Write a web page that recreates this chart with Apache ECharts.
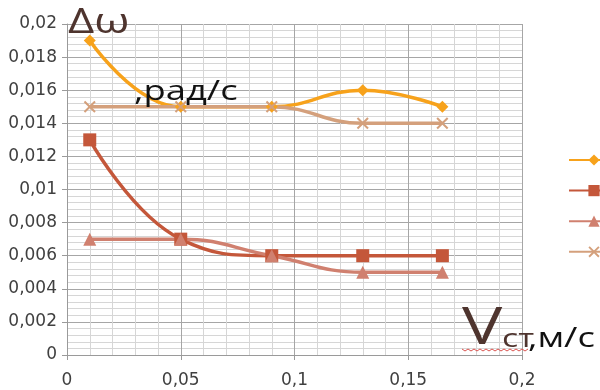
<!DOCTYPE html>
<html>
<head>
<meta charset="utf-8">
<script src="https://cdn.jsdelivr.net/npm/echarts@6/dist/echarts.min.js"></script>
<style>
  html, body { margin: 0; padding: 0; background: #fff; }
  #chart { width: 600px; height: 390px; }
</style>
</head>
<body>
<div id="chart"></div>
<script>
// Measured speeds, m/s
const speeds = [0.01, 0.05, 0.09, 0.13, 0.165];
// Angular-velocity deviation for each run, rad/s
const seriesDiamond = [0.019, 0.015, 0.015, 0.016, 0.015];
const seriesSquare = [0.013, 0.007, 0.006, 0.006, 0.006];
const seriesTriangle = [0.007, 0.007, 0.006, 0.005, 0.005];
const seriesCross = [0.015, 0.015, 0.015, 0.014, 0.014];
const seriesNames = ['1', '2', '3', '4'];

const xTicks = [0, 0.05, 0.1, 0.15, 0.2];
const yTicks = [0, 0.002, 0.004, 0.006, 0.008, 0.01, 0.012, 0.014, 0.016, 0.018, 0.02];

const comma = v => String(+v.toFixed(4)).replace('.', ',');
const pairs = ys => speeds.map((x, i) => [x, ys[i]]);

const crossPath = 'path://M0,1.2L1.2,0L5,3.8L8.8,0L10,1.2L6.2,5L10,8.8L8.8,10L5,6.2L1.2,10L0,8.8L3.8,5Z';

function lineSeries(name, data, color, symbol, size) {
  return {
    name, type: 'line', data: pairs(data), smooth: 0.45,
    symbol, symbolSize: size,
    lineStyle: { color, width: 3.5 },
    itemStyle: { color },
    emphasis: { disabled: true }
  };
}

// Axis titles drawn as free text, widened a little
function label(text, x, y, size, fill) {
  return {
    type: 'text', x, y, z: 10, scaleX: 1.3, originX: 0, originY: 0,
    style: { text, font: size + 'px "Open Sans"', fill }
  };
}

// Red wavy underline under the speed label
const wave = [];
for (let x = 462; x <= 530; x += 3) wave.push([x, 350 + ((x / 3) % 2 ? 1 : -1)]);

const tickFont = { color: '#404040', fontSize: 17, fontFamily: 'DejaVu Sans' };

const chart = echarts.init(document.getElementById('chart'));
chart.setOption({
  animation: false,
  grid: { left: 67, right: 78, top: 24, bottom: 35 },
  xAxis: {
    type: 'value', min: 0, max: 0.2, interval: 0.05,
    axisLine: { show: true, lineStyle: { color: '#9a9a9a' } },
    axisTick: { show: true, length: 5, lineStyle: { color: '#9a9a9a' } },
    axisLabel: Object.assign({}, tickFont, {
      margin: 17,
      formatter: v => xTicks.some(t => Math.abs(t - v) < 1e-9) ? comma(v) : ''
    }),
    splitLine: { show: true, lineStyle: { color: '#a6a6a6', width: 1 } },
    minorTick: { show: false, splitNumber: 5 },
    minorSplitLine: { show: true, lineStyle: { color: '#d6d6d6', width: 1 } }
  },
  yAxis: {
    type: 'value', min: 0, max: 0.02, interval: 0.002,
    axisLine: { show: true, lineStyle: { color: '#9a9a9a' } },
    axisTick: { show: true, length: 5, lineStyle: { color: '#9a9a9a' } },
    axisLabel: Object.assign({}, tickFont, {
      margin: 10,
      formatter: v => yTicks.some(t => Math.abs(t - v) < 1e-9) ? comma(v) : ''
    }),
    splitLine: { show: true, lineStyle: { color: '#a6a6a6', width: 1 } },
    minorTick: { show: false, splitNumber: 5 },
    minorSplitLine: { show: true, lineStyle: { color: '#d6d6d6', width: 1 } }
  },
  legend: {
    orient: 'vertical', left: 563, top: 148,
    itemWidth: 50, itemHeight: 14, itemGap: 18,
    formatter: () => '',
    selectedMode: false,
    data: seriesNames
  },
  series: [
    lineSeries(seriesNames[0], seriesDiamond, '#F7A21B', 'diamond', 12),
    lineSeries(seriesNames[1], seriesSquare, '#C4573A', 'rect', 13),
    lineSeries(seriesNames[2], seriesTriangle, '#D0806F', 'triangle', 13),
    lineSeries(seriesNames[3], seriesCross, '#D4A07C', crossPath, 12)
  ],
  graphic: [
    label('Δω', 68, 6, 35, '#4E342E'),
    label(',рад/с', 134, 78, 28, '#111'),
    label('V', 462, 303, 52, '#4E342E'),
    label('ст', 502, 327, 26, '#4E342E'),
    label(',м/с', 528, 325, 28, '#111'),
    { type: 'polyline', z: 10, shape: { points: wave },
      style: { stroke: '#D9534F', lineWidth: 1, fill: null } }
  ]
});
</script>
</body>
</html>
